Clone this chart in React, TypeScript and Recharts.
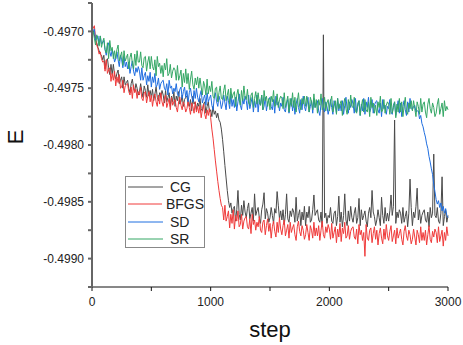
import React from "react";
import { LineChart, Line, XAxis, YAxis, Legend } from "recharts";

// optimisation step, sampled every 10 (0..3000)
const steps = Array.from({ length: 301 }, (_, i) => i * 10);

// one row = 100 steps
const cg = [
  -0.497, -0.49699, -0.49703, -0.49708, -0.4971, -0.49714, -0.49717, -0.4972, -0.49721, -0.49725,
  -0.49721, -0.49733, -0.49726, -0.49724, -0.49732, -0.49738, -0.49729, -0.49738, -0.49729, -0.49738,
  -0.49742, -0.49737, -0.49734, -0.49746, -0.49743, -0.4974, -0.4975, -0.4974, -0.49747, -0.49745,
  -0.49743, -0.4975, -0.49754, -0.49746, -0.49742, -0.4975, -0.49753, -0.49746, -0.4975, -0.49756,
  -0.49753, -0.49746, -0.49753, -0.49758, -0.49748, -0.49752, -0.49758, -0.49747, -0.49757, -0.49752,
  -0.49758, -0.49751, -0.49761, -0.49755, -0.49749, -0.49758, -0.49761, -0.49754, -0.49758, -0.49752,
  -0.49756, -0.49763, -0.49752, -0.49762, -0.49758, -0.49754, -0.49766, -0.49757, -0.49762, -0.49753,
  -0.49766, -0.49757, -0.49761, -0.49753, -0.49764, -0.49762, -0.49756, -0.49766, -0.4976, -0.49758,
  -0.49757, -0.49764, -0.49766, -0.4976, -0.4977, -0.49757, -0.49764, -0.49762, -0.49769, -0.49763,
  -0.49766, -0.49759, -0.49768, -0.4977, -0.49764, -0.49762, -0.49772, -0.49766, -0.49762, -0.49771,
  -0.49769, -0.49775, -0.49766, -0.49773, -0.4977, -0.49776, -0.49772, -0.49778, -0.4978, -0.49786,
  -0.49795, -0.49806, -0.49818, -0.49829, -0.4984, -0.49849, -0.49855, -0.49851, -0.4986, -0.49856,
  -0.49854, -0.49867, -0.49857, -0.4984, -0.49861, -0.49866, -0.49853, -0.49862, -0.49849, -0.49859,
  -0.49864, -0.49856, -0.49851, -0.49865, -0.4986, -0.49855, -0.49867, -0.49843, -0.49862, -0.49858,
  -0.49855, -0.49864, -0.49869, -0.49857, -0.49852, -0.49842, -0.49865, -0.49856, -0.4986, -0.49868,
  -0.49864, -0.49855, -0.49862, -0.49869, -0.49856, -0.4986, -0.49841, -0.49853, -0.49865, -0.49858,
  -0.49866, -0.49857, -0.4987, -0.49861, -0.49843, -0.49865, -0.49868, -0.49858, -0.49863, -0.49856,
  -0.49859, -0.49868, -0.49846, -0.49867, -0.49862, -0.49857, -0.49871, -0.49859, -0.49866, -0.49854,
  -0.49871, -0.49859, -0.49864, -0.49854, -0.49868, -0.49866, -0.49857, -0.49844, -0.49862, -0.49859,
  -0.49857, -0.49866, -0.49868, -0.49859, -0.49872, -0.49703, -0.49864, -0.4986, -0.49869, -0.49862,
  -0.49864, -0.49855, -0.49867, -0.49869, -0.4986, -0.49858, -0.49871, -0.49863, -0.49845, -0.49868,
  -0.49859, -0.49872, -0.49862, -0.49843, -0.49866, -0.49871, -0.49858, -0.49867, -0.49854, -0.49864,
  -0.49868, -0.4986, -0.49855, -0.49869, -0.49864, -0.49847, -0.49871, -0.49857, -0.49866, -0.49862,
  -0.49858, -0.49867, -0.49872, -0.4986, -0.49855, -0.49864, -0.4984, -0.49859, -0.49863, -0.49871,
  -0.49866, -0.49857, -0.49864, -0.49871, -0.49846, -0.49862, -0.49869, -0.49855, -0.49867, -0.4986,
  -0.49867, -0.49858, -0.49844, -0.49862, -0.49854, -0.49778, -0.49869, -0.49859, -0.49864, -0.49857,
  -0.4986, -0.49869, -0.49855, -0.49868, -0.49863, -0.49858, -0.49872, -0.4986, -0.4983, -0.49855,
  -0.49871, -0.49859, -0.49864, -0.49854, -0.49838, -0.49866, -0.49857, -0.49869, -0.49862, -0.49859,
  -0.49857, -0.49866, -0.49868, -0.49859, -0.49872, -0.49855, -0.49864, -0.4986, -0.49808, -0.49862,
  -0.49864, -0.49855, -0.49867, -0.49869, -0.4986, -0.49828, -0.49871, -0.49863, -0.49857, -0.49868,
  -0.49862,
];

const bfgs = [
  -0.497, -0.49697, -0.49695, -0.49706, -0.49712, -0.49715, -0.4972, -0.49718, -0.49724, -0.49727,
  -0.49726, -0.49735, -0.49725, -0.49737, -0.49734, -0.49732, -0.49744, -0.49737, -0.49743, -0.49735,
  -0.49748, -0.4974, -0.49745, -0.49738, -0.4975, -0.49749, -0.49743, -0.49754, -0.49748, -0.49747,
  -0.49746, -0.49753, -0.49756, -0.49749, -0.49759, -0.49747, -0.49754, -0.49751, -0.49759, -0.49753,
  -0.49756, -0.49749, -0.49759, -0.49761, -0.49754, -0.49753, -0.49763, -0.49757, -0.49753, -0.49762,
  -0.49756, -0.49766, -0.49758, -0.49755, -0.49762, -0.49766, -0.49756, -0.49764, -0.49754, -0.49762,
  -0.49766, -0.4976, -0.49756, -0.49767, -0.49763, -0.49759, -0.49769, -0.49758, -0.49765, -0.49762,
  -0.4976, -0.49767, -0.49771, -0.49762, -0.49758, -0.49765, -0.49769, -0.49762, -0.49765, -0.49771,
  -0.49768, -0.49761, -0.49767, -0.49773, -0.49763, -0.49766, -0.49772, -0.49762, -0.49771, -0.49766,
  -0.49772, -0.49765, -0.49776, -0.49769, -0.49764, -0.49773, -0.49777, -0.49769, -0.49774, -0.49768,
  -0.49776, -0.49786, -0.49794, -0.49804, -0.49814, -0.49823, -0.49832, -0.4984, -0.49847, -0.49853,
  -0.49855, -0.49866, -0.49853, -0.49867, -0.49863, -0.49858, -0.49873, -0.49861, -0.49869, -0.49857,
  -0.49874, -0.49862, -0.49867, -0.49858, -0.49872, -0.4987, -0.49861, -0.49874, -0.49867, -0.49864,
  -0.49863, -0.49872, -0.49874, -0.49865, -0.49878, -0.49861, -0.4987, -0.49866, -0.49875, -0.49868,
  -0.49872, -0.49863, -0.49875, -0.49877, -0.49868, -0.49866, -0.49879, -0.49871, -0.49865, -0.49876,
  -0.49869, -0.49882, -0.49872, -0.49867, -0.49876, -0.49881, -0.49868, -0.49877, -0.49864, -0.49874,
  -0.49879, -0.49871, -0.49866, -0.4988, -0.49875, -0.4987, -0.49882, -0.49868, -0.49877, -0.49873,
  -0.4987, -0.49879, -0.49884, -0.49872, -0.49867, -0.49876, -0.4988, -0.49871, -0.49875, -0.49883,
  -0.49879, -0.4987, -0.49877, -0.49884, -0.49871, -0.49875, -0.49882, -0.49868, -0.4988, -0.49873,
  -0.4988, -0.49871, -0.49884, -0.49875, -0.49867, -0.49879, -0.49882, -0.49872, -0.49877, -0.4987,
  -0.49874, -0.49883, -0.49869, -0.49882, -0.49877, -0.49872, -0.49886, -0.49874, -0.49881, -0.49869,
  -0.49885, -0.49873, -0.49878, -0.49868, -0.49882, -0.4988, -0.49871, -0.49883, -0.49876, -0.49873,
  -0.49872, -0.49881, -0.49883, -0.49874, -0.49887, -0.4987, -0.49879, -0.49875, -0.49884, -0.49877,
  -0.49898, -0.4987, -0.49882, -0.49884, -0.49875, -0.49873, -0.49886, -0.49878, -0.49872, -0.49883,
  -0.49875, -0.49888, -0.49878, -0.49873, -0.49882, -0.49887, -0.49874, -0.49883, -0.4987, -0.4988,
  -0.49884, -0.49876, -0.49871, -0.49885, -0.4988, -0.49875, -0.49887, -0.49873, -0.49882, -0.49878,
  -0.49874, -0.49883, -0.49888, -0.49876, -0.49871, -0.4988, -0.49884, -0.49875, -0.49879, -0.49887,
  -0.49883, -0.49874, -0.49881, -0.49888, -0.49875, -0.49879, -0.49886, -0.49872, -0.49884, -0.49877,
  -0.49884, -0.49875, -0.49888, -0.49879, -0.49871, -0.49883, -0.49886, -0.49876, -0.49881, -0.49874,
  -0.49877, -0.49886, -0.49872, -0.49885, -0.4988, -0.49875, -0.49889, -0.49877, -0.49884, -0.49872,
  -0.4988,
];

const sd = [
  -0.49703, -0.49699, -0.49698, -0.49708, -0.49706, -0.49704, -0.49712, -0.49704, -0.49711, -0.4971,
  -0.49708, -0.49716, -0.49721, -0.49713, -0.4971, -0.49718, -0.49722, -0.49716, -0.4972, -0.49727,
  -0.49724, -0.49718, -0.49725, -0.49731, -0.49721, -0.49725, -0.49732, -0.49722, -0.49731, -0.49727,
  -0.49733, -0.49727, -0.49737, -0.49731, -0.49726, -0.49735, -0.49739, -0.49732, -0.49736, -0.49731,
  -0.49735, -0.49743, -0.49732, -0.49743, -0.49739, -0.49736, -0.49747, -0.49739, -0.49744, -0.49736,
  -0.49749, -0.4974, -0.49745, -0.49737, -0.49749, -0.49747, -0.49741, -0.49751, -0.49746, -0.49744,
  -0.49743, -0.4975, -0.49752, -0.49746, -0.49756, -0.49743, -0.4975, -0.49748, -0.49755, -0.4975,
  -0.49753, -0.49746, -0.49755, -0.49757, -0.49751, -0.49749, -0.49759, -0.49753, -0.49749, -0.49758,
  -0.49752, -0.49762, -0.49754, -0.4975, -0.49757, -0.49762, -0.49752, -0.49759, -0.4975, -0.49758,
  -0.49762, -0.49756, -0.49752, -0.49763, -0.49759, -0.49756, -0.49765, -0.49754, -0.49762, -0.49759,
  -0.49756, -0.49765, -0.49769, -0.49759, -0.49754, -0.49762, -0.49766, -0.49757, -0.49761, -0.49768,
  -0.49764, -0.49756, -0.49763, -0.49769, -0.49757, -0.49761, -0.49768, -0.49755, -0.49766, -0.4976,
  -0.49767, -0.49758, -0.4977, -0.49762, -0.49755, -0.49765, -0.49769, -0.49759, -0.49764, -0.49757,
  -0.49761, -0.49769, -0.49756, -0.49768, -0.49763, -0.49758, -0.49771, -0.49761, -0.49767, -0.49756,
  -0.49771, -0.4976, -0.49765, -0.49756, -0.49769, -0.49766, -0.49758, -0.4977, -0.49763, -0.4976,
  -0.49758, -0.49766, -0.49769, -0.4976, -0.49772, -0.49757, -0.49765, -0.49762, -0.4977, -0.49763,
  -0.49766, -0.49758, -0.49769, -0.49771, -0.49763, -0.4976, -0.49772, -0.49765, -0.49759, -0.4977,
  -0.49761, -0.49773, -0.49764, -0.49759, -0.49767, -0.49772, -0.4976, -0.49769, -0.49757, -0.49766,
  -0.4977, -0.49763, -0.49758, -0.49771, -0.49766, -0.49761, -0.49772, -0.49759, -0.49767, -0.49764,
  -0.49761, -0.4977, -0.49774, -0.49764, -0.49759, -0.49767, -0.49771, -0.49762, -0.49766, -0.49773,
  -0.49768, -0.4976, -0.49767, -0.49773, -0.49761, -0.49765, -0.49772, -0.49759, -0.4977, -0.49764,
  -0.4977, -0.49761, -0.49773, -0.49765, -0.49758, -0.49768, -0.49772, -0.49762, -0.49767, -0.4976,
  -0.49764, -0.49772, -0.49759, -0.49771, -0.49766, -0.49761, -0.49774, -0.49764, -0.4977, -0.49759,
  -0.49773, -0.49762, -0.49767, -0.49758, -0.49771, -0.49768, -0.4976, -0.49772, -0.49765, -0.49762,
  -0.49761, -0.49769, -0.49772, -0.49763, -0.49775, -0.4976, -0.49768, -0.49765, -0.49773, -0.49766,
  -0.49768, -0.4976, -0.49771, -0.49773, -0.49765, -0.49762, -0.49774, -0.49767, -0.49761, -0.49772,
  -0.49763, -0.49775, -0.49766, -0.49761, -0.49769, -0.49774, -0.49762, -0.49771, -0.49759, -0.49768,
  -0.49769, -0.49766, -0.49765, -0.49771, -0.4977, -0.4977, -0.49777, -0.49774, -0.49781, -0.49784,
  -0.49789, -0.49793, -0.49799, -0.49803, -0.4981, -0.49815, -0.49821, -0.49826, -0.49835, -0.49841,
  -0.49848, -0.49852, -0.49849, -0.49855, -0.49851, -0.49858, -0.49854, -0.4986, -0.49856, -0.49862,
  -0.49864,
];

const sr = [
  -0.49705, -0.497, -0.49706, -0.49712, -0.49703, -0.49707, -0.49713, -0.49704, -0.49714, -0.49709,
  -0.49706, -0.49716, -0.49719, -0.4971, -0.49724, -0.49708, -0.49717, -0.49714, -0.49724, -0.49717,
  -0.49724, -0.49716, -0.49712, -0.49726, -0.49722, -0.49718, -0.4973, -0.49717, -0.49726, -0.49723,
  -0.4972, -0.49733, -0.49723, -0.49719, -0.49728, -0.49733, -0.4972, -0.4973, -0.49717, -0.49727,
  -0.49727, -0.49718, -0.4973, -0.49732, -0.49723, -0.49722, -0.49735, -0.49727, -0.49722, -0.49733,
  -0.49722, -0.49731, -0.49734, -0.49725, -0.49739, -0.49722, -0.49731, -0.49728, -0.49737, -0.4973,
  -0.4974, -0.49728, -0.49734, -0.49724, -0.49739, -0.49737, -0.49729, -0.49741, -0.49735, -0.49732,
  -0.49734, -0.49743, -0.4973, -0.49743, -0.49739, -0.49734, -0.49749, -0.49737, -0.49745, -0.49733,
  -0.49746, -0.49737, -0.49751, -0.49742, -0.49735, -0.49747, -0.49751, -0.49741, -0.49747, -0.4974,
  -0.4975, -0.49741, -0.49749, -0.49756, -0.49744, -0.49748, -0.49756, -0.49742, -0.49755, -0.49748,
  -0.49753, -0.49744, -0.49757, -0.49759, -0.4975, -0.49749, -0.49762, -0.49754, -0.49748, -0.49759,
  -0.4976, -0.49752, -0.49747, -0.49761, -0.49756, -0.49751, -0.49764, -0.4975, -0.49759, -0.49755,
  -0.49753, -0.49766, -0.49756, -0.49751, -0.4976, -0.49765, -0.49752, -0.49761, -0.49748, -0.49758,
  -0.4976, -0.49751, -0.49763, -0.49765, -0.49756, -0.49754, -0.49767, -0.49759, -0.49753, -0.49764,
  -0.49754, -0.49763, -0.49765, -0.49756, -0.49769, -0.49752, -0.49761, -0.49757, -0.49766, -0.49759,
  -0.49769, -0.49757, -0.49762, -0.49752, -0.49766, -0.49764, -0.49755, -0.49767, -0.4976, -0.49757,
  -0.49759, -0.49768, -0.49754, -0.49767, -0.49762, -0.49757, -0.49771, -0.49759, -0.49766, -0.49754,
  -0.49767, -0.49758, -0.49771, -0.49762, -0.49754, -0.49766, -0.49769, -0.49759, -0.49764, -0.49757,
  -0.49766, -0.49757, -0.49764, -0.49771, -0.49758, -0.49762, -0.49769, -0.49755, -0.49767, -0.4976,
  -0.49772, -0.4976, -0.49765, -0.49755, -0.49769, -0.49767, -0.49758, -0.4977, -0.49763, -0.4976,
  -0.4977, -0.49762, -0.49757, -0.49771, -0.49766, -0.49761, -0.49773, -0.49759, -0.49768, -0.49764,
  -0.49761, -0.49774, -0.49764, -0.49759, -0.49768, -0.49773, -0.4976, -0.49769, -0.49756, -0.49766,
  -0.49767, -0.49758, -0.4977, -0.49772, -0.49763, -0.49761, -0.49774, -0.49766, -0.4976, -0.49771,
  -0.4976, -0.49769, -0.49771, -0.49762, -0.49775, -0.49758, -0.49767, -0.49763, -0.49772, -0.49765,
  -0.49774, -0.49762, -0.49767, -0.49757, -0.49771, -0.49769, -0.4976, -0.49772, -0.49765, -0.49762,
  -0.49764, -0.49773, -0.49759, -0.49772, -0.49767, -0.49762, -0.49776, -0.49764, -0.49771, -0.49759,
  -0.49771, -0.49762, -0.49775, -0.49766, -0.49758, -0.4977, -0.49773, -0.49763, -0.49768, -0.49761,
  -0.4977, -0.49761, -0.49768, -0.49775, -0.49762, -0.49766, -0.49773, -0.49759, -0.49771, -0.49764,
  -0.49762, -0.49771, -0.49776, -0.49764, -0.49759, -0.49768, -0.49772, -0.49763, -0.49767, -0.49775,
  -0.49772, -0.49764, -0.49759, -0.49773, -0.49768, -0.49763, -0.49775, -0.49761, -0.4977, -0.49766,
  -0.49769,
];

const xTicks = [0, 500, 1000, 1500, 2000, 2500, 3000];
const yTicks = [
  -0.49925, -0.499, -0.49875, -0.4985, -0.49825, -0.498, -0.49775, -0.4975, -0.49725, -0.497, -0.49675,
];

const series = [
  { key: "CG", color: "#4a4a4a" },
  { key: "BFGS", color: "#f03a3a" },
  { key: "SD", color: "#1f6ee0" },
  { key: "SR", color: "#34a765" },
];

const data = steps.map((s, i) => ({ step: s, CG: cg[i], BFGS: bfgs[i], SD: sd[i], SR: sr[i] }));

const font = "'Liberation Sans', Arial, sans-serif";
const tickStyle = { fontSize: 12, fill: "#222", fontFamily: font };

const fmtX = (v: number) => (v % 1000 === 0 ? String(v) : "");
const fmtY = (v: number) => (Math.abs(Math.round(v * 1e5)) % 50 === 0 ? v.toFixed(4) : "");

const LegendBox = () => (
  <div
    style={{
      border: "1px solid #888",
      background: "#fff",
      width: 80,
      height: 72,
      boxSizing: "border-box",
      paddingTop: 1,
      fontFamily: font,
      fontSize: 14,
      color: "#222",
      lineHeight: "18px",
    }}
  >
    {series.map((s) => (
      <div key={s.key} style={{ display: "flex", alignItems: "center", height: 17.5 }}>
        <svg width={38} height={4} style={{ marginLeft: 2, marginRight: 4 }}>
          <line x1={0} y1={2} x2={35} y2={2} stroke={s.color} strokeWidth={1} />
        </svg>
        <span>{s.key}</span>
      </div>
    ))}
  </div>
);

export default function App() {
  return (
    <div style={{ position: "absolute", left: 0, top: 0, background: "#fff" }}>
      <LineChart width={463} height={345} data={data} margin={{ top: 3, right: 15, bottom: 0, left: 0 }}>
        <XAxis
          xAxisId="b"
          dataKey="step"
          type="number"
          domain={[0, 3000]}
          ticks={xTicks}
          tickFormatter={fmtX}
          tick={tickStyle}
          tickSize={4}
          tickMargin={6}
          height={58}
          stroke="#111"
          interval={0}
          label={{
            content: () => (
              <text x={270} y={337} textAnchor="middle" fontSize={22} fontFamily={font} fill="#111">
                step
              </text>
            ),
          }}
        />
        <XAxis
          xAxisId="t"
          orientation="top"
          type="number"
          domain={[0, 3000]}
          ticks={xTicks}
          tick={false}
          tickSize={4}
          mirror
          height={0}
          stroke="#777"
          interval={0}
        />
        <YAxis
          yAxisId="l"
          type="number"
          domain={[-0.49925, -0.49675]}
          ticks={yTicks}
          tickFormatter={fmtY}
          tick={tickStyle}
          tickSize={4}
          tickMargin={4}
          width={92}
          stroke="#666"
          strokeWidth={2}
          interval={0}
          label={{
            content: () => (
              <text
                x={23}
                y={137}
                transform="rotate(-90 23 137)"
                textAnchor="middle"
                fontSize={22}
                fontFamily={font}
                fill="#111"
              >
                E
              </text>
            ),
          }}
        />
        <YAxis
          yAxisId="r"
          orientation="right"
          type="number"
          domain={[-0.49925, -0.49675]}
          ticks={yTicks}
          tick={false}
          tickSize={4}
          mirror
          width={0}
          stroke="#444"
          strokeWidth={2}
          interval={0}
        />
        {series.map((s) => (
          <Line
            key={s.key}
            xAxisId="b"
            yAxisId="l"
            dataKey={s.key}
            stroke={s.color}
            strokeWidth={1}
            dot={false}
            isAnimationActive={false}
            type="linear"
          />
        ))}
        <Legend
          layout="vertical"
          align="center"
          verticalAlign="middle"
          content={() => <LegendBox />}
          wrapperStyle={{ left: 125, top: 176, width: 82, height: 74 }}
        />
      </LineChart>
    </div>
  );
}
